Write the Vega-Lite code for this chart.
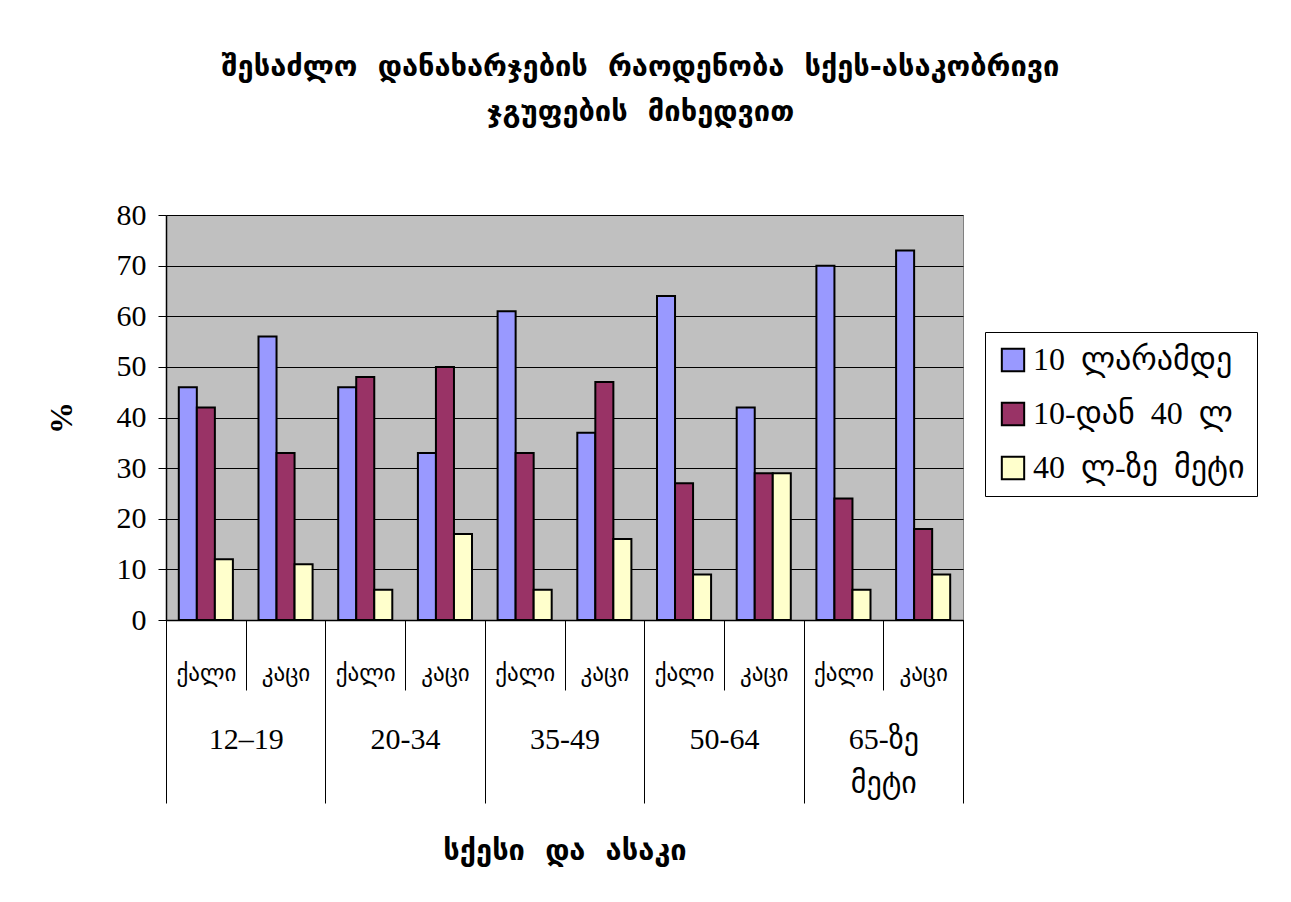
{
  "$schema": "https://vega.github.io/schema/vega-lite/v6.json",
  "width": 797,
  "height": 405,
  "autosize": {"type": "none"},
  "padding": {"left": 166, "top": 215, "right": 328, "bottom": 282},
  "background": "white",
  "title": {
    "text": ["შესაძლო \u00a0დანახარჯების \u00a0რაოდენობა \u00a0სქეს-ასაკობრივი", "ჯგუფების \u00a0მიხედვით"],
    "font": "DejaVu Sans",
    "fontSize": 29,
    "fontWeight": "bold",
    "color": "black",
    "lineHeight": 45,
    "anchor": "middle",
    "frame": "group",
    "dx": 76,
    "offset": 73
  },
  "data": {
    "values": [
      {"age": "12–19", "sex": "ქალი", "cat": "12–19|ქალი", "series": "10 \u00a0ლარამდე", "value": 46},
      {"age": "12–19", "sex": "ქალი", "cat": "12–19|ქალი", "series": "10-დან \u00a040 \u00a0ლ", "value": 42},
      {"age": "12–19", "sex": "ქალი", "cat": "12–19|ქალი", "series": "40 \u00a0ლ-ზე \u00a0მეტი", "value": 12},
      {"age": "12–19", "sex": "კაცი", "cat": "12–19|კაცი", "series": "10 \u00a0ლარამდე", "value": 56},
      {"age": "12–19", "sex": "კაცი", "cat": "12–19|კაცი", "series": "10-დან \u00a040 \u00a0ლ", "value": 33},
      {"age": "12–19", "sex": "კაცი", "cat": "12–19|კაცი", "series": "40 \u00a0ლ-ზე \u00a0მეტი", "value": 11},
      {"age": "20-34", "sex": "ქალი", "cat": "20-34|ქალი", "series": "10 \u00a0ლარამდე", "value": 46},
      {"age": "20-34", "sex": "ქალი", "cat": "20-34|ქალი", "series": "10-დან \u00a040 \u00a0ლ", "value": 48},
      {"age": "20-34", "sex": "ქალი", "cat": "20-34|ქალი", "series": "40 \u00a0ლ-ზე \u00a0მეტი", "value": 6},
      {"age": "20-34", "sex": "კაცი", "cat": "20-34|კაცი", "series": "10 \u00a0ლარამდე", "value": 33},
      {"age": "20-34", "sex": "კაცი", "cat": "20-34|კაცი", "series": "10-დან \u00a040 \u00a0ლ", "value": 50},
      {"age": "20-34", "sex": "კაცი", "cat": "20-34|კაცი", "series": "40 \u00a0ლ-ზე \u00a0მეტი", "value": 17},
      {"age": "35-49", "sex": "ქალი", "cat": "35-49|ქალი", "series": "10 \u00a0ლარამდე", "value": 61},
      {"age": "35-49", "sex": "ქალი", "cat": "35-49|ქალი", "series": "10-დან \u00a040 \u00a0ლ", "value": 33},
      {"age": "35-49", "sex": "ქალი", "cat": "35-49|ქალი", "series": "40 \u00a0ლ-ზე \u00a0მეტი", "value": 6},
      {"age": "35-49", "sex": "კაცი", "cat": "35-49|კაცი", "series": "10 \u00a0ლარამდე", "value": 37},
      {"age": "35-49", "sex": "კაცი", "cat": "35-49|კაცი", "series": "10-დან \u00a040 \u00a0ლ", "value": 47},
      {"age": "35-49", "sex": "კაცი", "cat": "35-49|კაცი", "series": "40 \u00a0ლ-ზე \u00a0მეტი", "value": 16},
      {"age": "50-64", "sex": "ქალი", "cat": "50-64|ქალი", "series": "10 \u00a0ლარამდე", "value": 64},
      {"age": "50-64", "sex": "ქალი", "cat": "50-64|ქალი", "series": "10-დან \u00a040 \u00a0ლ", "value": 27},
      {"age": "50-64", "sex": "ქალი", "cat": "50-64|ქალი", "series": "40 \u00a0ლ-ზე \u00a0მეტი", "value": 9},
      {"age": "50-64", "sex": "კაცი", "cat": "50-64|კაცი", "series": "10 \u00a0ლარამდე", "value": 42},
      {"age": "50-64", "sex": "კაცი", "cat": "50-64|კაცი", "series": "10-დან \u00a040 \u00a0ლ", "value": 29},
      {"age": "50-64", "sex": "კაცი", "cat": "50-64|კაცი", "series": "40 \u00a0ლ-ზე \u00a0მეტი", "value": 29},
      {"age": "65-ზე მეტი", "sex": "ქალი", "cat": "65-ზე მეტი|ქალი", "series": "10 \u00a0ლარამდე", "value": 70},
      {"age": "65-ზე მეტი", "sex": "ქალი", "cat": "65-ზე მეტი|ქალი", "series": "10-დან \u00a040 \u00a0ლ", "value": 24},
      {"age": "65-ზე მეტი", "sex": "ქალი", "cat": "65-ზე მეტი|ქალი", "series": "40 \u00a0ლ-ზე \u00a0მეტი", "value": 6},
      {"age": "65-ზე მეტი", "sex": "კაცი", "cat": "65-ზე მეტი|კაცი", "series": "10 \u00a0ლარამდე", "value": 73},
      {"age": "65-ზე მეტი", "sex": "კაცი", "cat": "65-ზე მეტი|კაცი", "series": "10-დან \u00a040 \u00a0ლ", "value": 18},
      {"age": "65-ზე მეტი", "sex": "კაცი", "cat": "65-ზე მეტი|კაცი", "series": "40 \u00a0ლ-ზე \u00a0მეტი", "value": 9}
    ]
  },
  "encoding": {
    "y": {
      "field": "value",
      "type": "quantitative",
      "scale": {"domain": [0, 80], "nice": false},
      "axis": {
        "title": "%",
        "titleFont": "Liberation Serif",
        "titleFontSize": 32,
        "titleFontWeight": "bold",
        "titleColor": "black",
        "titlePadding": 38,
        "values": [0, 10, 20, 30, 40, 50, 60, 70, 80],
        "labelFont": "Liberation Serif",
        "labelFontSize": 30,
        "labelColor": "black",
        "labelPadding": 12,
        "tickSize": 8,
        "tickColor": "black",
        "domainColor": "black",
        "domainWidth": 1.5,
        "grid": true,
        "gridColor": "black",
        "gridOpacity": 1
      }
    }
  },
  "layer": [
    {
      "mark": {"type": "bar", "stroke": "black", "strokeWidth": 2},
      "encoding": {
        "x": {
          "field": "cat",
          "type": "nominal",
          "sort": null,
          "scale": {"paddingInner": 0, "paddingOuter": 0},
          "axis": {
            "orient": "bottom",
            "title": null,
            "labelExpr": "split(datum.value, '|')[1]",
            "labelAngle": 0,
            "labelFont": "DejaVu Sans",
            "labelFontSize": 23,
            "labelColor": "black",
            "labelBaseline": "middle",
            "labelPadding": -17,
            "tickBand": "extent",
            "tickSize": 70,
            "tickColor": "black",
            "domainColor": "black",
            "domainWidth": 1.5,
            "grid": false
          }
        },
        "xOffset": {
          "field": "series",
          "type": "nominal",
          "sort": ["10 \u00a0ლარამდე", "10-დან \u00a040 \u00a0ლ", "40 \u00a0ლ-ზე \u00a0მეტი"],
          "scale": {"paddingInner": 0, "paddingOuter": 0.71}
        },
        "color": {
          "field": "series",
          "type": "nominal",
          "sort": ["10 \u00a0ლარამდე", "10-დან \u00a040 \u00a0ლ", "40 \u00a0ლ-ზე \u00a0მეტი"],
          "scale": {
            "domain": ["10 \u00a0ლარამდე", "10-დან \u00a040 \u00a0ლ", "40 \u00a0ლ-ზე \u00a0მეტი"],
            "range": ["#9999FF", "#993366", "#FFFFCC"]
          },
          "legend": {
            "title": null,
            "orient": "none",
            "legendX": 819,
            "legendY": 117,
            "padding": 12,
            "strokeColor": "black",
            "fillColor": "white",
            "symbolType": "square",
            "symbolSize": 500,
            "symbolStrokeColor": "black",
            "symbolStrokeWidth": 2,
            "labelFont": "Liberation Serif, DejaVu Sans",
            "labelFontSize": 32,
            "labelColor": "black",
            "labelLimit": 400,
            "labelOffset": 4,
            "rowPadding": 22
          }
        }
      }
    },
    {
      "mark": {"type": "point", "opacity": 0},
      "encoding": {
        "x": {
          "field": "age",
          "type": "nominal",
          "sort": null,
          "scale": {"type": "band", "paddingInner": 0, "paddingOuter": 0},
          "axis": {
            "orient": "bottom",
            "title": "სქესი \u00a0და \u00a0ასაკი",
            "titleFont": "DejaVu Sans",
            "titleFontSize": 29,
            "titleFontWeight": "bold",
            "titleColor": "black",
            "titlePadding": 33,
            "labelExpr": "datum.value == '65-ზე მეტი' ? ['65-ზე', 'მეტი'] : datum.value",
            "labelAngle": 0,
            "labelFont": "Liberation Serif, DejaVu Sans",
            "labelFontSize": 30,
            "labelColor": "black",
            "labelBaseline": "top",
            "labelLineHeight": 44,
            "labelPadding": -79,
            "tickBand": "extent",
            "tickSize": 183,
            "tickColor": "black",
            "domain": false,
            "grid": false
          }
        }
      }
    }
  ],
  "resolve": {"scale": {"x": "independent"}, "axis": {"x": "independent"}},
  "view": {"fill": "#C0C0C0", "stroke": "#808080"}
}
